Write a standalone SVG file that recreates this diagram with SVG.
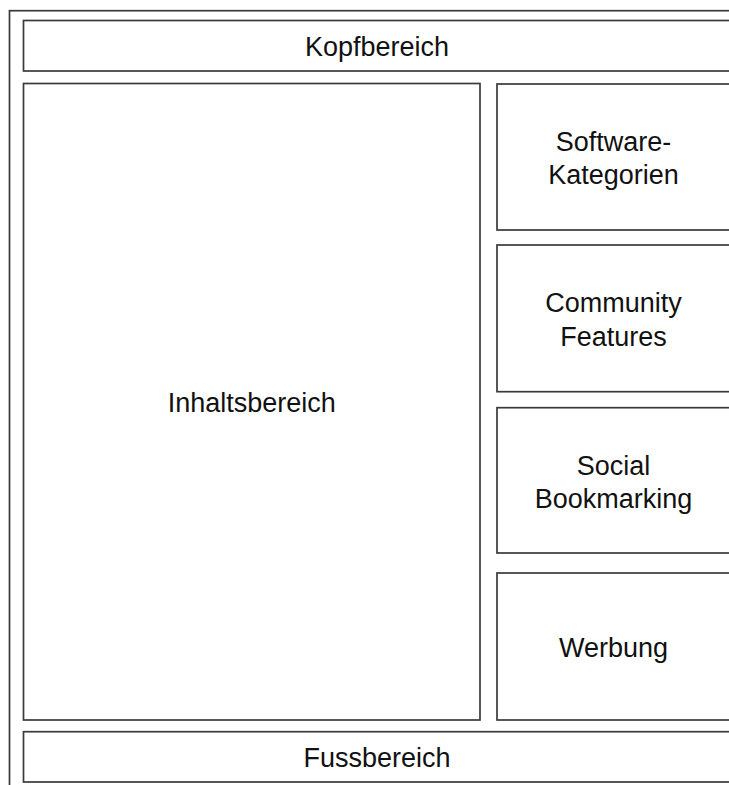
<svg xmlns="http://www.w3.org/2000/svg" width="729" height="785" viewBox="0 0 729 785">
<style>
.box{fill:#ffffff;stroke:#3a3a3a;stroke-width:1.7}
.lbl{font-family:"Liberation Sans",Arial,sans-serif;font-size:27px;fill:#111111;text-anchor:middle}
</style>
<rect width="729" height="785" fill="#ffffff"/>
<g id="frame"><rect class="box" x="9.5" y="10.7" width="740" height="800"/></g>
<g id="kopfbereich"><rect class="box" x="23.5" y="20.5" width="707" height="50.5"/><text class="lbl" x="377" y="55.5">Kopfbereich</text></g>
<g id="inhaltsbereich"><rect class="box" x="23.5" y="83.5" width="456.5" height="636.5"/><text class="lbl" x="251.7" y="411.5">Inhaltsbereich</text></g>
<g id="software"><rect class="box" x="497" y="84" width="234" height="146"/><text class="lbl" x="613.5" y="150.7">Software-</text><text class="lbl" x="613.5" y="184">Kategorien</text></g>
<g id="community"><rect class="box" x="497" y="245" width="234" height="146.7"/><text class="lbl" x="613.5" y="312">Community</text><text class="lbl" x="613.5" y="345.5">Features</text></g>
<g id="social"><rect class="box" x="497" y="407.7" width="234" height="145.3"/><text class="lbl" x="613.5" y="475">Social</text><text class="lbl" x="613.5" y="508.3">Bookmarking</text></g>
<g id="werbung"><rect class="box" x="497" y="573" width="234" height="147"/><text class="lbl" x="613.5" y="657.3">Werbung</text></g>
<g id="fussbereich"><rect class="box" x="23.5" y="731.7" width="707" height="50.3"/><text class="lbl" x="377" y="766.7">Fussbereich</text></g>
<g id="connectors"></g>
</svg>
